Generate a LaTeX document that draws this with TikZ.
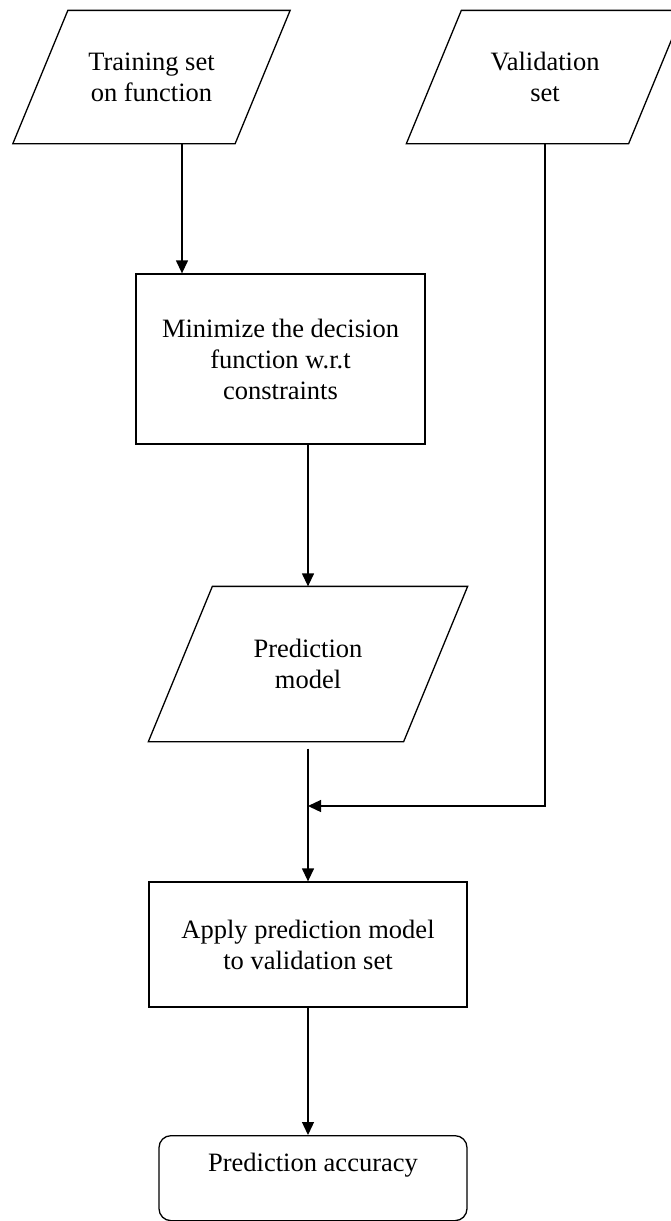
\documentclass[tikz,border=0pt]{standalone}
\usepackage{fontspec}
\setmainfont{Liberation Serif}
\usetikzlibrary{arrows.meta}

\begin{document}
\begin{tikzpicture}[x=1pt,y=1pt,line width=1.3pt,>={Triangle[length=13pt,width=12pt]},
          font=\fontsize{26.5}{31}\selectfont,
          io node/.style={rectangle,align=center,minimum height=132pt,minimum width=221pt},
          process node/.style={rectangle,draw,align=center},
          end node/.style={rectangle,rounded corners=12pt,draw,align=center}]

          \useasboundingbox (0,0) rectangle (670,-1221);

          \node[io node] (1) at (151.5,-77) {Training set\\on function};
          \node[io node] (2) at (545,-77) {Validation\\set};
          \node[process node,minimum width=289pt,minimum height=170pt] (3) at (280.5,-359) {Minimize the decision\\function w.r.t\\constraints};
          \node[io node,minimum width=254pt,minimum height=154pt] (4) at (308,-664) {Prediction\\model};
          \node[process node,minimum width=318pt,minimum height=125pt] (5) at (308,-944.5) {Apply prediction model\\to validation set};
          \node[end node,anchor=north,minimum width=308pt,inner ysep=18pt,text height=18pt,text depth=31pt] (6) at (313,-1135) {Prediction accuracy};

          % slanted sides of the data boxes
          \foreach \n/\s in {1/27.5,2/27.5,4/32}
            \draw ([xshift=-\s pt]\n.south west) -- ([xshift=-\s pt]\n.south east)
              -- ([xshift=\s pt]\n.north east) -- ([xshift=\s pt]\n.north west) -- cycle;

          \coordinate (a) at ([xshift=30.5pt]1.south);
          \coordinate (j) at (308,-806);

          \draw[->] (a) -- (a |- 3.north);
          \draw[->] (3.south -| 4.north) -- (4.north);
          \draw[->] ([yshift=-7pt]4.south) -- (5.north);
          \draw[->] (2.south) |- (j);
          \draw[->] (5.south) -- (5.south |- 6.north);

        \end{tikzpicture}
\end{document}
